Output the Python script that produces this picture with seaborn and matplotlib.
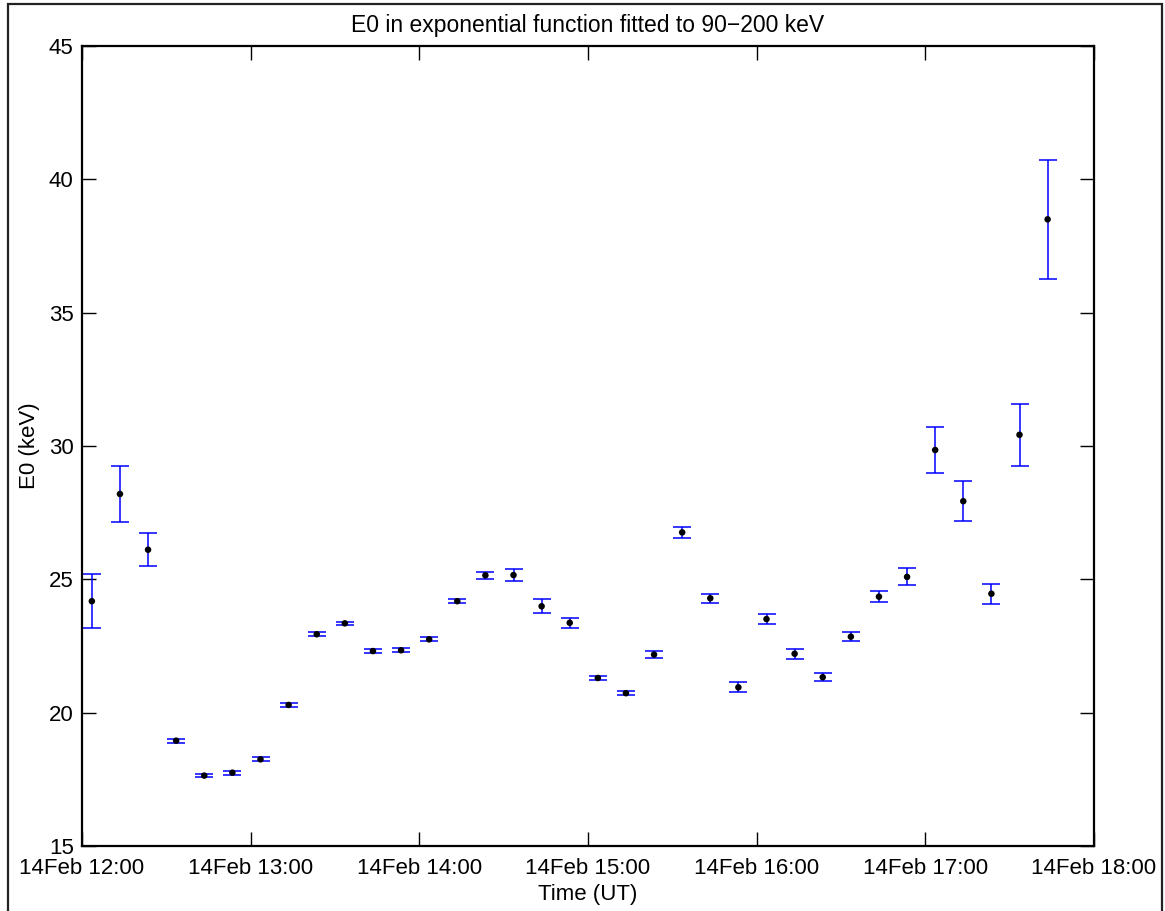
import matplotlib
matplotlib.use("Agg")
import matplotlib.pyplot as plt
import matplotlib.dates as mdates
from matplotlib.patches import Rectangle
import pandas as pd
import seaborn as sns

# Fit results: start time of each 10-minute interval, fitted E0 and its 1-sigma error
times = ["12:03:30", "12:13:30", "12:23:30", "12:33:30", "12:43:30", "12:53:30",
         "13:03:30", "13:13:30", "13:23:30", "13:33:30", "13:43:30", "13:53:30",
         "14:03:30", "14:13:30", "14:23:30", "14:33:30", "14:43:30", "14:53:30",
         "15:03:30", "15:13:30", "15:23:30", "15:33:30", "15:43:30", "15:53:30",
         "16:03:30", "16:13:30", "16:23:30", "16:33:30", "16:43:30", "16:53:30",
         "17:03:30", "17:13:30", "17:23:30", "17:33:30", "17:43:30"]
e0 = [24.18, 28.20, 26.11, 18.95, 17.64, 17.75, 18.25, 20.29, 22.94, 23.35,
      22.31, 22.34, 22.75, 24.18, 25.15, 25.16, 23.99, 23.37, 21.30, 20.73,
      22.18, 26.76, 24.29, 20.95, 23.51, 22.21, 21.33, 22.85, 24.35, 25.09,
      29.85, 27.93, 24.46, 30.42, 38.50]
e0_err = [1.01, 1.06, 0.62, 0.07, 0.06, 0.08, 0.07, 0.07, 0.07, 0.06,
          0.07, 0.07, 0.07, 0.08, 0.14, 0.23, 0.26, 0.18, 0.08, 0.08,
          0.12, 0.21, 0.16, 0.19, 0.20, 0.19, 0.14, 0.16, 0.20, 0.32,
          0.87, 0.76, 0.38, 1.16, 2.22]
day = "2014-02-14"

df = pd.DataFrame({
    "time": pd.to_datetime([f"{day} {t}" for t in times]),
    "E0": e0,
    "err": e0_err,
})

sns.set_theme(style="white")
plt.rcParams["font.family"] = ["Liberation Sans", "DejaVu Sans"]

fig = plt.figure(figsize=(11.65, 9.11), dpi=100)
ax = fig.add_axes([82 / 1165, 1 - 846 / 911, (1094 - 82) / 1165, (846 - 46) / 911])

ax.errorbar(df["time"], df["E0"], yerr=df["err"], fmt="none",
            ecolor="#0000ff", elinewidth=1.1, capsize=6.8, capthick=1.1, zorder=2)
sns.scatterplot(data=df, x="time", y="E0", ax=ax, color="black", s=22,
                edgecolor="none", zorder=3)

ax.set_xlim(pd.Timestamp(f"{day} 12:00"), pd.Timestamp(f"{day} 18:00"))
ax.set_ylim(15, 45)
ax.set_yticks([15, 20, 25, 30, 35, 40, 45])
ax.xaxis.set_major_locator(mdates.HourLocator())
ax.xaxis.set_major_formatter(mdates.DateFormatter("%d%b %H:%M"))

ax.tick_params(direction="in", length=10, width=1.0, colors="black",
               labelsize=16, top=True, right=True, bottom=True, left=True)
ax.tick_params(axis="y", pad=6)
ax.tick_params(axis="x", pad=9)
for s in ax.spines.values():
    s.set_color("black")
    s.set_linewidth(1.6)
    s.set_visible(True)

ax.set_xlabel("Time (UT)", fontsize=16, color="black", labelpad=3)
ax.set_ylabel("E0 (keV)", fontsize=16, color="black", labelpad=6)
ax.set_title("E0 in exponential function fitted to 90\u2212200 keV",
             fontsize=16.5, color="black", pad=10)

# Outer figure frame
fig.patches.append(Rectangle((8 / 1165, -0.1), (1162 - 8) / 1165, 1.1 - 4 / 911,
                             transform=fig.transFigure, fill=False,
                             edgecolor="#222222", linewidth=1.6, clip_on=False))

fig.savefig("out.png", dpi=100, facecolor="white")
